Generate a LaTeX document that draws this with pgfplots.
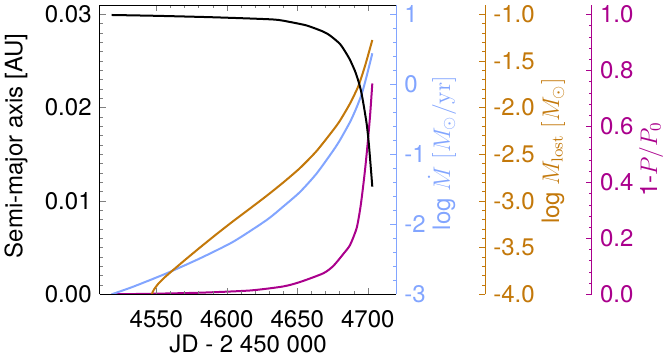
\documentclass[border=0pt]{standalone}
\usepackage[no-math]{fontspec}
\setmainfont{TeX Gyre Heros}
\usepackage{pgfplots}
\pgfplotsset{compat=1.18}
\definecolor{cblue}{RGB}{130,165,255}
\definecolor{corange}{RGB}{195,120,10}
\definecolor{cmag}{RGB}{170,0,140}
\pgfplotsset{
  base/.style={scale only axis, width=148pt, height=144.65pt, xmin=4510, xmax=4720,
    tick align=inside, major tick length=3pt, minor tick length=1.5pt,
    scaled ticks=false, axis line style={line width=0.5pt}},
  small/.style={scale only axis, width=20pt, height=144.65pt, xmin=0, xmax=1,
    hide x axis, axis y line*=right, tick align=inside, scaled ticks=false,
    major tick length=3pt, minor tick length=1.5pt, minor y tick num=4,
    axis line style={line width=0.5pt}},
  curve/.style={line width=1pt, line join=round, mark=none, smooth, tension=0.4},
}
\begin{document}
\fontsize{12}{14}\selectfont
\begin{tikzpicture}
% magenta curve (1 - P/P0)
\begin{axis}[base, hide axis, ymin=0, ymax=1.033333]
\addplot[curve, cmag] coordinates {
(4518.3,0)(4545.5,0.0018)(4581.0,0.0057)(4616.4,0.0136)(4639.8,0.0279)
(4651.9,0.0439)(4668.4,0.0750)(4675.5,0.1011)(4682.6,0.1439)(4687.4,0.1761)
(4692.1,0.2368)(4694.8,0.3118)(4696.8,0.3904)(4698.4,0.462)(4700.0,0.545)
(4701.6,0.638)(4703.2,0.753)};
\end{axis}
% blue axis and curve (log Mdot)
\begin{axis}[base, ymin=-3, ymax=1.133333, axis x line=none, axis y line*=right,
  ytick={-3,-2,-1,0,1}, yticklabels={-3,-2,-1,0,1}, minor y tick num=4,
  y axis line style={cblue}, ytick style={cblue}, yticklabel style={text=cblue}]
\addplot[curve, cblue] coordinates {
(4518.3,-3.000)(4533.6,-2.891)(4557.3,-2.700)(4581.0,-2.486)(4604.6,-2.248)
(4628.3,-1.938)(4640.0,-1.746)(4651.9,-1.538)(4663.7,-1.274)(4675.5,-0.945)
(4680.3,-0.795)(4687.4,-0.538)(4691.6,-0.352)(4695.7,-0.138)(4699.2,0.119)
(4703.2,0.443)};
\end{axis}
% orange curve (log M_lost)
\begin{axis}[base, hide axis, ymin=-4, ymax=-0.9, clip=true]
\addplot[curve, corange] coordinates {
(4546.5,-4.02)(4546.7,-4.000)(4548.3,-3.949)(4551.2,-3.890)(4555.4,-3.825)
(4561.1,-3.750)(4570.3,-3.632)(4581.0,-3.498)(4592.8,-3.354)(4604.6,-3.215)
(4616.4,-3.081)(4628.3,-2.944)(4640.0,-2.802)(4651.9,-2.647)(4663.7,-2.464)
(4675.5,-2.239)(4680.3,-2.138)(4687.4,-1.955)(4693.3,-1.768)(4698.0,-1.554)
(4703.2,-1.275)};
\end{axis}
% main axis with semi-major axis (black)
\begin{axis}[base, ymin=0, ymax=0.031, axis x line*=box, axis y line*=left,
  xtick={4550,4600,4650,4700}, xticklabels={4550,4600,4650,4700}, minor x tick num=4,
  ytick={0,0.01,0.02,0.03}, yticklabels={0.00,0.01,0.02,0.03}, minor y tick num=9,
  xticklabel style={yshift=-4pt},
  xlabel={JD - 2 450 000}, ylabel={Semi-major axis [AU]},
  xlabel style={at={(axis description cs:0.5,0)}, anchor=base, yshift=-29.2pt},
  ylabel style={at={(axis description cs:-0.2838,0.513)}, anchor=center}]
\addplot[curve, black] coordinates {
(4518.3,0.02993)(4550.2,0.02984)(4591.6,0.02968)(4632.7,0.02945)(4644.8,0.02918)
(4656.7,0.02880)(4668.2,0.02816)(4673.2,0.02773)(4680.3,0.02682)(4685.0,0.02575)
(4687.4,0.02511)(4690.9,0.02393)(4693.3,0.02286)(4695.2,0.02179)(4696.8,0.02050)
(4699.2,0.01825)(4700.8,0.01600)(4703.2,0.01153)};
\end{axis}
% orange y axis
\begin{axis}[small, at={(172.5pt,0pt)}, ymin=-4, ymax=-0.9,
  ytick={-4,-3.5,-3,-2.5,-2,-1.5,-1},
  yticklabels={-4.0,-3.5,-3.0,-2.5,-2.0,-1.5,-1.0},
  y axis line style={corange}, ytick style={corange}, yticklabel style={text=corange}]
\end{axis}
% magenta y axis
\begin{axis}[small, at={(225.85pt,0pt)}, ymin=0, ymax=1.033333,
  ytick={0,0.2,0.4,0.6,0.8,1}, yticklabels={0.0,0.2,0.4,0.6,0.8,1.0},
  y axis line style={cmag}, ytick style={cmag}, yticklabel style={text=cmag}]
\end{axis}
% right-hand axis titles
\node[rotate=90, text=cblue] at (171pt,70.6pt) {log $\dot{M}$ $[M_\odot/\mathrm{yr}]$};
\node[rotate=90, text=corange] at (226.5pt,71.6pt) {log $M_\mathrm{lost}$ $[M_\odot]$};
\node[rotate=90, text=cmag] at (275.5pt,67.6pt) {1-$P/P_0$};
\pgfresetboundingbox
\path[use as bounding box] (-50pt,-34.35pt) rectangle (282pt,147.15pt);
\end{tikzpicture}
\end{document}
